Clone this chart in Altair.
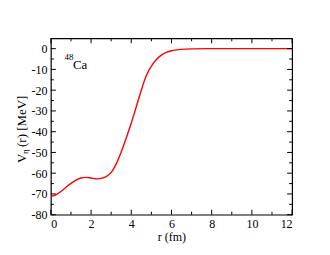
import altair as alt
import pandas as pd

# Curve
r_vals = [0, 0.25, 0.5, 0.75, 1.0, 1.25, 1.5, 1.75, 2.0, 2.25, 2.5, 2.75, 3.0,
          3.25, 3.5, 3.75, 4.0, 4.25, 4.5, 4.75, 5.0, 5.25, 5.5, 5.75, 6.0,
          6.5, 7.0, 8.0, 9.0, 10.0, 11.0, 12.0]
v_vals = [-71.2, -70.4, -68.8, -66.8, -64.9, -63.3, -62.3, -62.0, -62.3, -62.7, -62.5, -61.6, -59.6,
          -55.5, -49.8, -43.0, -35.8, -28.0, -20.0, -12.9, -8.4, -5.2, -3.1, -1.8, -1.0,
          -0.35, -0.1, 0.0, 0.0, 0.0, 0.0, 0.0]

x_major = [0, 2, 4, 6, 8, 10, 12]
x_minor = [1, 3, 5, 7, 9, 11]
y_major = [-80, -70, -60, -50, -40, -30, -20, -10, 0]
y_minor = [-75, -65, -55, -45, -35, -25, -15, -5]

W, H = 242, 177
FONT = "Times New Roman"

xs = alt.Scale(domain=[0, 12], nice=False, zero=False)
ys = alt.Scale(domain=[-80, 5], nice=False, zero=False)

xax = alt.Axis(
    values=x_major, title="r (fm)", domain=False, ticks=False, grid=False,
    labelPadding=4, labelFont=FONT, labelFontSize=12, labelColor="black",
    titleFont=FONT, titleFontSize=12, titleFontWeight="normal", titleColor="black",
    titlePadding=2, labelExpr="'' + datum.value")
yax = alt.Axis(
    values=y_major, title=None, domain=False, ticks=False, grid=False,
    labelPadding=4, labelFont=FONT, labelFontSize=12, labelColor="black",
    labelExpr="'' + datum.value")

X = lambda: alt.X("r:Q", scale=xs, axis=xax, title="r (fm)")
Y = lambda: alt.Y("v:Q", scale=ys, axis=yax, title=None)

curve = alt.Chart(pd.DataFrame({"r": r_vals, "v": v_vals})).mark_line(
    color="#ff0000", strokeWidth=1.4, interpolate="catmull-rom"
).encode(x=X(), y=Y())

def xticks(vals, length):
    df = pd.DataFrame({"r": vals})
    b = alt.Chart(df).mark_rule(color="black", strokeWidth=1).encode(
        x=X(), y=alt.value(H), y2=alt.value(H - length))
    t = alt.Chart(df).mark_rule(color="black", strokeWidth=1).encode(
        x=X(), y=alt.value(0), y2=alt.value(length))
    return [b, t]

def yticks(vals, length):
    df = pd.DataFrame({"v": vals})
    l = alt.Chart(df).mark_rule(color="black", strokeWidth=1).encode(
        y=Y(), x=alt.value(0), x2=alt.value(length))
    rr = alt.Chart(df).mark_rule(color="black", strokeWidth=1).encode(
        y=Y(), x=alt.value(W), x2=alt.value(W - length))
    return [l, rr]

ticks = xticks(x_major, 5) + xticks(x_minor, 3) + yticks(y_major, 5) + yticks(y_minor, 3)

lab_df = pd.DataFrame({"r": [1.1], "v": [-9.8], "t": ["Ca"]})
ca = alt.Chart(lab_df).mark_text(font=FONT, fontSize=13, align="left", baseline="alphabetic",
                                 color="black").encode(x=X(), y=Y(), text="t:N")
sup_df = pd.DataFrame({"r": [0.68], "v": [-5.6], "t": ["48"]})
sup = alt.Chart(sup_df).mark_text(font=FONT, fontSize=9, align="left", baseline="alphabetic",
                                  color="black").encode(x=X(), y=Y(), text="t:N")

def ytitle(txt, x, y, size):
    return alt.Chart(pd.DataFrame({"t": [txt]})).mark_text(
        font=FONT, fontSize=size, align="left", baseline="alphabetic", angle=270, color="black"
    ).encode(x=alt.value(x), y=alt.value(y), text="t:N")

titles = [ytitle("V", -25, 125, 13), ytitle("η", -23, 116, 9), ytitle("(r)  [MeV]", -25, 109, 13)]

chart = alt.layer(curve, *ticks, ca, sup, *titles).properties(
    width=W, height=H,
    autosize=alt.AutoSizeParams(type="none"),
    padding={"left": 43, "top": 30, "right": 30, "bottom": 30},
).configure_view(stroke="black", strokeWidth=1.2)

chart.save("out.html", embed_options={"renderer": "svg", "actions": False})
